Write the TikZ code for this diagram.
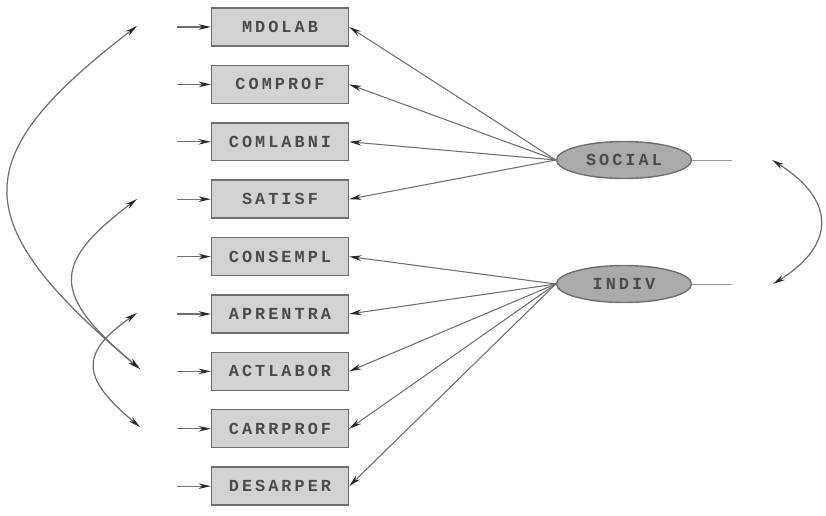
\documentclass[tikz,border=0pt]{standalone}
\usepackage{fontspec}
\newfontfamily\semfont[LetterSpace=18]{Liberation Mono}
\usetikzlibrary{arrows.meta, positioning, shapes.geometric}
\definecolor{boxgray}{RGB}{210,210,210}
\definecolor{latgray}{RGB}{170,170,170}
\definecolor{linegray}{RGB}{110,110,110}
\definecolor{tipgray}{RGB}{40,40,40}
\definecolor{txtgray}{RGB}{75,75,75}

\tikzset{
  obs/.style={draw=linegray, line width=0.8pt, fill=boxgray, minimum width=2.74cm, minimum height=0.76cm, inner sep=0pt, font=\semfont\bfseries\fontsize{9.6}{10}\selectfont, text=txtgray},
  lat/.style={obs, ellipse, fill=latgray, minimum width=2.7cm, minimum height=0.74cm},
  load/.style={draw=linegray, line width=0.6pt, -{Stealth[length=7pt, width=3.2pt, color=tipgray]}},
  err/.style={load},
  cov/.style={draw=linegray, line width=0.7pt, {Stealth[length=7pt, width=3.2pt, color=tipgray]}-{Stealth[length=7pt, width=3.2pt, color=tipgray]}},
}

\begin{document}
\begin{tikzpicture}[x=0.02cm, y=-0.02cm]
    \useasboundingbox (0,0) rectangle (826,515);

    % Observed variables
    \node[obs] (mdolab) at (280,27) {MDOLAB};
    \node[obs, below=0.36cm of mdolab] (comprof) {COMPROF};
    \node[obs, below=0.36cm of comprof] (comlabni) {COMLABNI};
    \node[obs, below=0.36cm of comlabni] (satisf) {SATISF};
    \node[obs, below=0.36cm of satisf] (consempl) {CONSEMPL};
    \node[obs, below=0.36cm of consempl] (aprentra) {APRENTRA};
    \node[obs, below=0.36cm of aprentra] (actlabor) {ACTLABOR};
    \node[obs, below=0.36cm of actlabor] (carrprof) {CARRPROF};
    \node[obs, below=0.36cm of carrprof] (desarper) {DESARPER};

    % Latent factors
    \node[lat] (social) at (624,160) {SOCIAL};
    \node[lat] (indiv) at (624,284) {INDIV};

    % Error terms
    \foreach \n in {mdolab,comprof,comlabni,satisf,consempl,aprentra,actlabor,carrprof,desarper}{
        \coordinate (e-\n) at ([xshift=-0.68cm]\n.west);
        \draw[err] (e-\n) -- (\n.west);
    }

    % Loadings
    \foreach \n in {mdolab,comprof,comlabni,satisf}
        \draw[load] (social.west) -- (\n.east);
    \foreach \n in {consempl,aprentra,actlabor,carrprof,desarper}
        \draw[load] (indiv.west) -- (\n.east);

    % Factor variances
    \coordinate (v-social) at (732,160);
    \coordinate (v-indiv) at (732,284);
    \draw[linegray!70, line width=0.4pt] (social.east) -- (v-social);
    \draw[linegray!70, line width=0.4pt] (indiv.east) -- (v-indiv);

    % Covariances
    \coordinate (c-mdolab) at (137,26);
    \coordinate (c-satisf) at (137,199);
    \coordinate (c-aprentra) at (137,313);
    \coordinate (c-actlabor) at (140,369);
    \coordinate (c-carrprof) at (140,427);
    \coordinate (c-social) at (772,160);
    \coordinate (c-indiv) at (773,284);
    \draw[cov] (c-mdolab) .. controls (-35,158) and (-35,221) .. (c-actlabor);
    \draw[cov] (c-satisf) .. controls (51,264) and (51,294) .. (c-actlabor);
    \draw[cov] (c-aprentra) .. controls (80,353) and (80,377) .. (c-carrprof);
    \draw[cov] (c-social) .. controls (836,200) and (836,245) .. (c-indiv);
\end{tikzpicture}
\end{document}
